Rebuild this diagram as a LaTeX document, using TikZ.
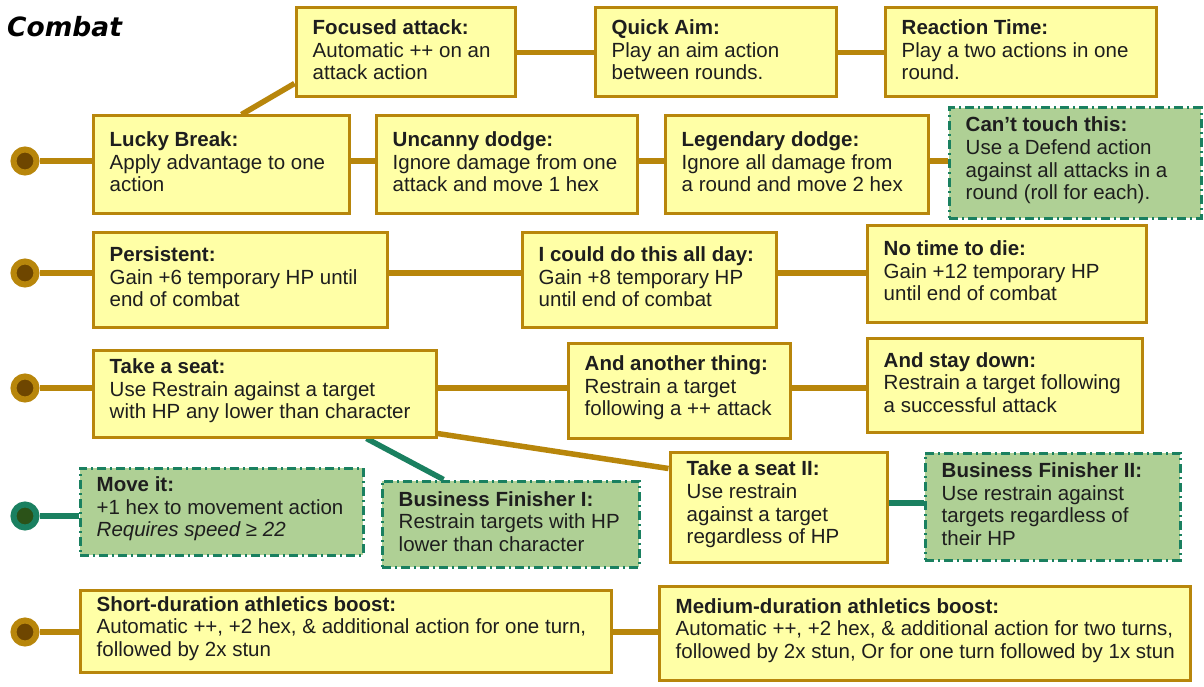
\documentclass[tikz,border=0pt]{standalone}
\usepackage{fontspec}
\setmainfont{Liberation Sans}
\newfontfamily\titlefont{DejaVu Sans}
\usetikzlibrary{backgrounds}
\definecolor{ybg}{HTML}{FFFFA6}
\definecolor{yln}{HTML}{B8860B}
\definecolor{ydot}{HTML}{6E4600}
\definecolor{gbg}{HTML}{AFD095}
\definecolor{gln}{HTML}{1A8060}
\definecolor{gdot}{HTML}{2B5218}
\definecolor{txtc}{HTML}{1E1E1E}
\newcommand\card[7]{%
  \node[#1, minimum width=#5, minimum height=#6] (#2) at (#3,#4) {};
  \node[txt] (#2-t) at ([xshift=18pt,yshift=2.5pt]#2.west) {#7};}
\begin{document}
\begin{tikzpicture}[x=1pt,y=-1pt,
  ybox/.style={draw=yln, fill=ybg, line width=3pt, inner sep=0pt},
  gbox/.style={draw=gln, fill=gbg, line width=3pt, inner sep=0pt, dash pattern=on 9pt off 4pt on 2pt off 4pt},
  txt/.style={anchor=west, align=left, inner sep=0pt, text=txtc, font=\fontsize{20.5}{22.6}\selectfont},
  yconn/.style={draw=yln, line width=5.5pt},
  gconn/.style={draw=gln, line width=5.5pt},
  ydotst/.style={circle, minimum size=23pt, inner sep=0pt, line width=6pt, draw=yln, fill=ydot},
  gdotst/.style={circle, minimum size=23pt, inner sep=0pt, line width=6pt, draw=gln, fill=gdot}]
\useasboundingbox (0,0) rectangle (1204,687);
\node[anchor=base west, inner sep=0pt, font=\titlefont\bfseries\itshape\fontsize{26.5}{30}\selectfont] (title) at (7,37) {Combat};

% row 0
\card{ybox}{fa}{405.5}{52.5}{219}{89}{\textbf{Focused attack:}\\Automatic ++ on an\\attack action}
\card{ybox}{qa}{715.5}{52.5}{241}{89}{\textbf{Quick Aim:}\\Play an aim action\\between rounds.}
\card{ybox}{rt}{1020.5}{52.5}{271}{89}{\textbf{Reaction Time:}\\Play a two actions in one\\round.}
% row 1
\card{ybox}{lb}{221}{164.5}{256}{97}{\textbf{Lucky Break:}\\Apply advantage to one\\action}
\card{ybox}{ud}{506.5}{164.5}{261}{97}{\textbf{Uncanny dodge:}\\Ignore damage from one\\attack and move 1 hex}
\card{ybox}{ld}{796.5}{164.5}{263}{97}{\textbf{Legendary dodge:}\\Ignore all damage from\\a round and move 2 hex}
\card{gbox}{ct}{1075}{163}{252}{110}{\textbf{Can’t touch this:}\\Use a Defend action\\against all attacks in a\\round (roll for each).}
% row 2
\card{ybox}{pe}{240}{279.5}{294}{95}{\textbf{Persistent:}\\Gain +6 temporary HP until\\end of combat}
\card{ybox}{cd}{649}{279.5}{254}{95}{\textbf{I could do this all day:}\\Gain +8 temporary HP\\until end of combat}
\card{ybox}{nt}{1006.5}{273.5}{279}{97}{\textbf{No time to die:}\\Gain +12 temporary HP\\until end of combat}
% row 3
\card{ybox}{ts}{264.5}{393.5}{343}{87}{\textbf{Take a seat:}\\Use Restrain against a target\\with HP any lower than character}
\card{ybox}{at}{679}{390.5}{222}{95}{\textbf{And another thing:}\\Restrain a target\\following a ++ attack}
\card{ybox}{sd}{1004.5}{385}{275}{94}{\textbf{And stay down:}\\Restrain a target following\\a successful attack}
% row 4
\card{gbox}{mi}{221.5}{511.5}{283}{87}{\textbf{Move it:}\\+1 hex to movement action\\\textit{Requires speed ≥ 22}}
\card{gbox}{bf}{510.5}{524}{257}{86}{\textbf{Business Finisher I:}\\Restrain targets with HP\\lower than character}
\card{ybox}{tt}{778.5}{507}{217}{110}{\textbf{Take a seat II:}\\Use restrain\\against a target\\regardless of HP}
\card{gbox}{bg}{1052.5}{506.5}{255}{107}{\textbf{Business Finisher II:}\\Use restrain against\\targets regardless of\\their HP}
% row 5
\card{ybox}{sh}{345.5}{631}{531}{82}{\textbf{Short-duration athletics boost:}\\Automatic ++, +2 hex, \& additional action for one turn,\\followed by 2x stun}
\card{ybox}{md}{924.5}{633}{531}{94}{\textbf{Medium-duration athletics boost:}\\Automatic ++, +2 hex, \& additional action for two turns,\\followed by 2x stun, Or for one turn followed by 1x stun}

% start dots
\node[ydotst] (c1) at (25,161) {};
\node[ydotst] (c2) at (25,273) {};
\node[ydotst] (c3) at (25,388) {};
\node[gdotst] (c4) at (25,516) {};
\node[ydotst] (c5) at (25,632) {};

\begin{pgfonlayer}{background}
\fill[white] (0,0) rectangle (1204,687);
% row 0
\draw[yconn] (fa) -- (qa);
\draw[yconn] (qa) -- (rt);
\draw[yconn] ([xshift=150pt]lb.north west) -- ([yshift=15pt]fa.south west);
% row 1
\draw[yconn] (c1) -- (c1 -| lb.west);
\draw[yconn] (lb.east |- c1) -- (ud.west |- c1);
\draw[yconn] (ud.east |- c1) -- (ld.west |- c1);
\draw[yconn] (ld.east |- c1) -- (ct.west |- c1);
% row 2
\draw[yconn] (c2) -- (c2 -| pe.west);
\draw[yconn] (pe.east |- c2) -- (cd.west |- c2);
\draw[yconn] (cd.east |- c2) -- (nt.west |- c2);
% row 3
\draw[yconn] (c3) -- (c3 -| ts.west);
\draw[yconn] (ts.east |- c3) -- (at.west |- c3);
\draw[yconn] (at.east |- c3) -- (sd.west |- c3);
\draw[gconn] ([xshift=275pt]ts.south west) -- ([xshift=63pt]bf.north west);
\draw[yconn] ([yshift=5pt]ts.south east) -- ([yshift=-18pt]tt.north west);
% row 4
\draw[gconn] (c4) -- (c4 -| mi.west);
\draw[gconn] ([yshift=4pt]tt.east) -- ([yshift=4pt]tt.east -| bg.west);
% row 5
\draw[yconn] (c5) -- (c5 -| sh.west);
\draw[yconn] (sh.east |- c5) -- (md.west |- c5);
\end{pgfonlayer}
\end{tikzpicture}
\end{document}
